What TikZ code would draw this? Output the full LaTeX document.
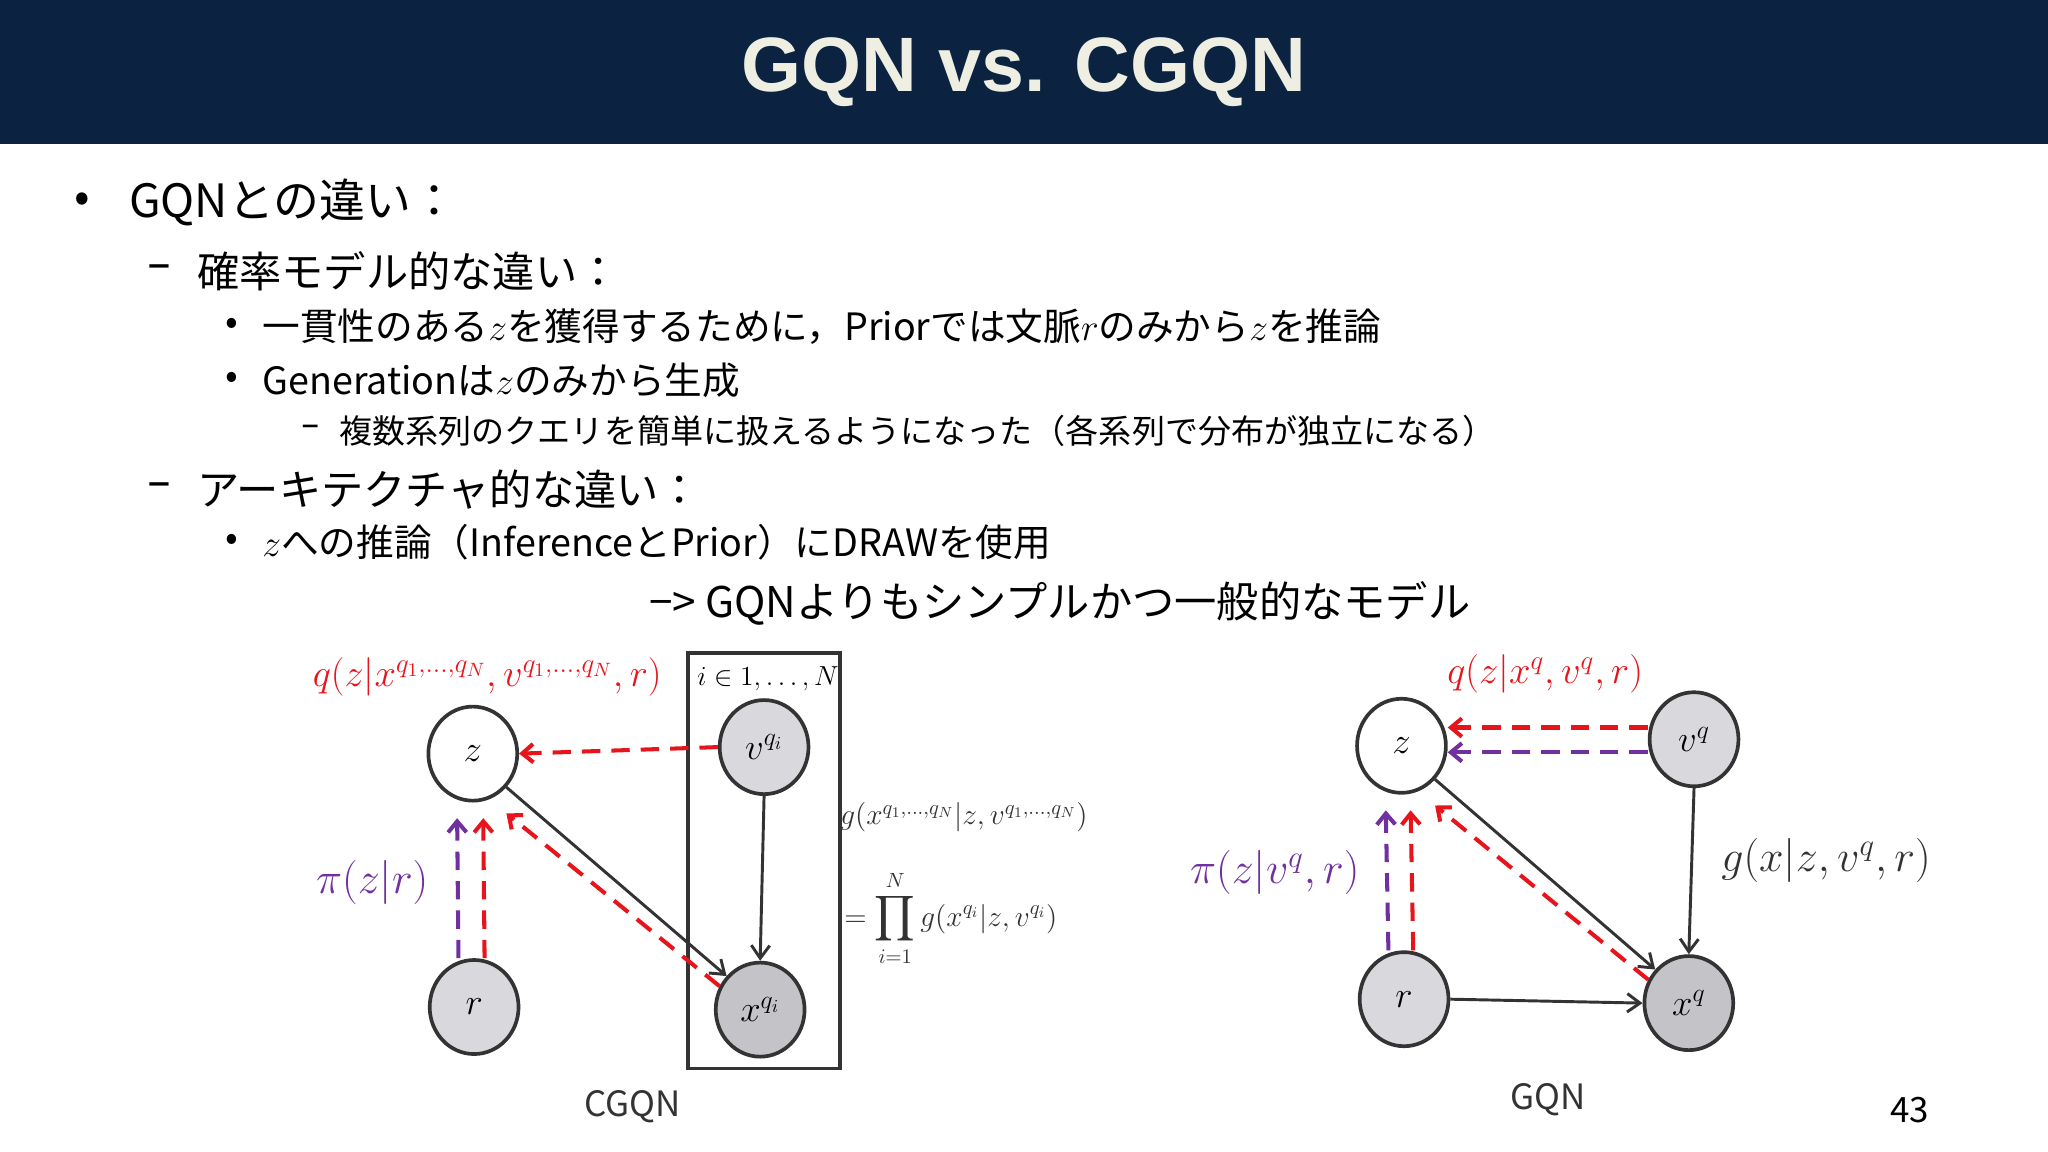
\documentclass[tikz,border=0pt]{standalone}
\usepackage{fix-cm}
\usepackage{amsmath}
\usepackage{fontspec}
\setmainfont{Noto Sans CJK JP}
\newfontfamily\titlefont{Liberation Sans}
\newfontfamily\dashfont{DejaVu Sans}
\usetikzlibrary{shapes.geometric,arrows.meta,calc}
\definecolor{navy}{HTML}{0B2340}
\definecolor{myred}{HTML}{E8141C}
\definecolor{mypurple}{HTML}{7030A0}
\definecolor{lgray}{HTML}{D9D9DD}
\definecolor{dgray}{HTML}{C4C4C8}
\definecolor{ink}{HTML}{333333}
\begin{document}
\begin{tikzpicture}[x=0.025cm,y=-0.025cm,
  var/.style={ellipse,draw=ink,line width=2pt,minimum width=1.7cm,minimum height=1.8cm,inner sep=0pt,font=\fontsize{20}{22}\selectfont},
  obs/.style={var,fill=lgray},
  obsd/.style={var,fill=dgray},
  solidarr/.style={draw=ink,line width=1.6pt,-{Straight Barb[length=7pt,width=10pt,line width=1.6pt]}},
  redarr/.style={draw=myred,line width=2.2pt,dash pattern=on 10pt off 6pt,-{Straight Barb[length=6pt,width=10pt,line width=2.2pt]}},
  purarr/.style={redarr,draw=mypurple},
  t1/.style={anchor=west,font=\fontsize{25}{28}\selectfont},
  t2/.style={anchor=west,font=\fontsize{23}{25}\selectfont},
  t3/.style={anchor=west,font=\fontsize{20.5}{22}\selectfont},
  t4/.style={anchor=west,font=\fontsize{18}{20}\selectfont},
  dsh/.style={anchor=west,font=\fontsize{26}{28}\selectfont\dashfont},
  mlab/.style={font=\fontsize{19}{22}\selectfont}]
\useasboundingbox (0,0) rectangle (1568,882);
\fill[white] (0,0) rectangle (1568,882);
\fill[navy] (0,0) rectangle (1568,110);
\node (title) at (784,55) {\titlefont\bfseries\fontsize{42}{46}\selectfont\color[HTML]{EEEEE2}GQN vs. CGQN};
% text
\node[t1] (b1) at (52,155) {•};
\node[t1] (l1) at (94,155) {GQNとの違い：};
\node[dsh] (b2) at (108,208) {–};
\node[t2] (l2) at (146,208) {確率モデル的な違い：};
\node[t3] (b3) at (168,250) {•};
\node[t3] (l3) at (196,250) {一貫性のある$z$を獲得するために，Priorでは文脈$r$のみから$z$を推論};
\node[t3] (b4) at (168,291) {•};
\node[t3] (l4) at (196,291) {Generationは$z$のみから生成};
\node[dsh,font=\fontsize{20}{22}\selectfont\dashfont] (b5) at (226,330) {–};
\node[t4] (l5) at (255,330) {複数系列のクエリを簡単に扱えるようになった（各系列で分布が独立になる）};
\node[dsh] (b6) at (108,375) {–};
\node[t2] (l6) at (146,375) {アーキテクチャ的な違い：};
\node[t3] (b7) at (168,415) {•};
\node[t3] (l7) at (196,415) {$z$への推論（InferenceとPrior）にDRAWを使用};
\node[t2] (l8) at (492,462) {−> GQNよりもシンプルかつ一般的なモデル};
% CGQN
\draw[ink,line width=2pt] (527,500) rectangle (643,818);
\node (plate) at (588,520) {\fontsize{15}{17}\selectfont$i\in 1,\ldots,N$};
\node[var] (z1) at (362,577) {$z$};
\node[obs] (v1) at (585,572) {$v^{q_i}$};
\node[obs] (r1) at (363,771) {$r$};
\node[obsd] (x1) at (582,773) {$x^{q_i}$};
\node[mlab,text=myred,font=\fontsize{21}{24}\selectfont] (q1) at (373,518) {$q(z|x^{q_1,\ldots,q_N},v^{q_1,\ldots,q_N},r)$};
\node[mlab,text=mypurple,font=\fontsize{24}{26}\selectfont] (p1) at (285,676) {$\pi(z|r)$};
\node[font=\fontsize{16}{18}\selectfont,text=ink,inner sep=1pt] (g1) at (738,626) {$g(x^{q_1,\ldots,q_N}|z,v^{q_1,\ldots,q_N})$};
\node[font=\fontsize{16}{18}\selectfont,text=ink,inner sep=1pt] (g2) at (728,703) {$\displaystyle=\prod_{i=1}^{N} g(x^{q_i}|z,v^{q_i})$};
\draw[redarr] (v1.west) -- (z1.east);
\draw[purarr] ($(r1.north)+(-12,0)$) -- ($(z1.south)+(-12,12)$);
\draw[redarr] ($(r1.north)+(8,0)$) -- ($(z1.south)+(8,12)$);
\draw[solidarr] (z1.-45) -- (x1.135);
\draw[redarr] (x1.150) -- ($(z1.-45)+(0,20)$);
\draw[solidarr] (v1.south) -- (x1.north);
\node[font=\fontsize{19}{22}\selectfont,text=ink] (c1) at (484,847) {CGQN};
% GQN
\node[var] (z2) at (1073,571) {$z$};
\node[obs] (v2) at (1297,566) {$v^{q}$};
\node[obs] (r2) at (1075,765) {$r$};
\node[obsd] (x2) at (1293,768) {$x^{q}$};
\node[mlab,text=myred,font=\fontsize{21}{24}\selectfont] (q2) at (1183,516) {$q(z|x^{q},v^{q},r)$};
\node[mlab,text=mypurple,font=\fontsize{24}{26}\selectfont] (p2) at (976,668) {$\pi(z|v^q,r)$};
\node[text=ink,font=\fontsize{24}{26}\selectfont] (g3) at (1398,659) {$g(x|z,v^q,r)$};
\draw[redarr] ($(v2.west)+(0,-9)$) -- ($(z2.east)+(0,-14)$);
\draw[purarr] ($(v2.west)+(0,10)$) -- ($(z2.east)+(0,5)$);
\draw[purarr] ($(r2.north)+(-12,0)$) -- ($(z2.south)+(-12,12)$);
\draw[redarr] ($(r2.north)+(7,0)$) -- ($(z2.south)+(7,12)$);
\draw[solidarr] (z2.-45) -- (x2.135);
\draw[redarr] (x2.150) -- ($(z2.-45)+(0,20)$);
\draw[solidarr] (v2.south) -- (x2.north);
\draw[solidarr] (r2.east) -- (x2.west);
\node[font=\fontsize{19}{22}\selectfont,text=ink] (c2) at (1185,842) {GQN};
\node[font=\fontsize{19}{22}\selectfont,text=black] (pg) at (1462,850) {43};
\end{tikzpicture}
\end{document}
